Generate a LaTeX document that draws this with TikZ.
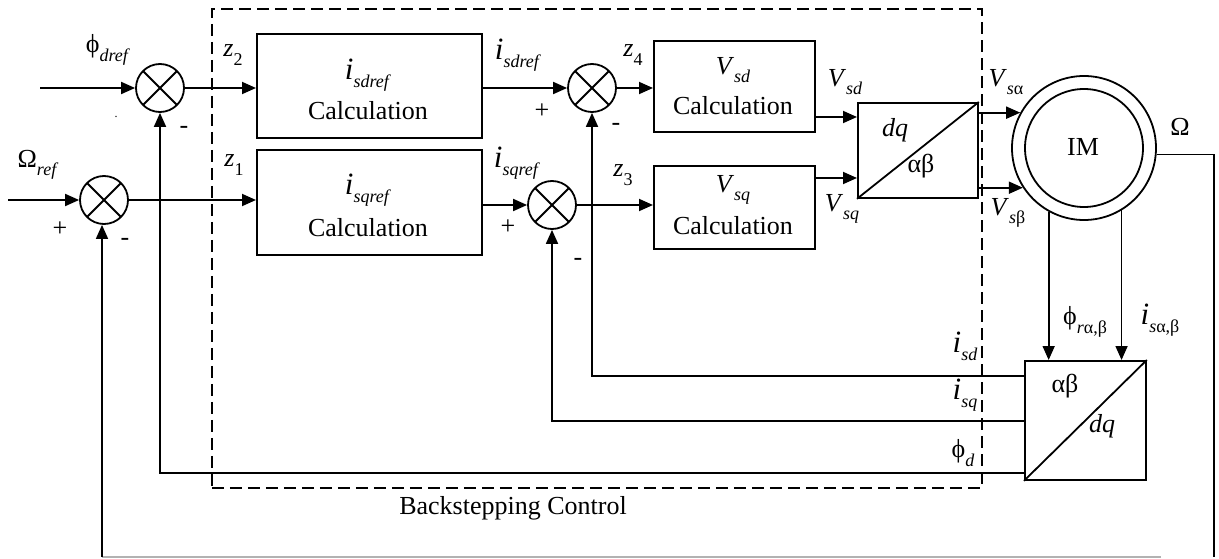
\documentclass[tikz,border=0pt]{standalone}
\usepackage{fontspec}
\setmainfont{Liberation Serif}
\usetikzlibrary{arrows.meta,calc}
% lowered small subscript
\newcommand\sbs[1]{\raisebox{-0.32em}{\fontsize{18}{18}\selectfont #1}}
\newcommand\bigi{{\fontsize{31}{31}\selectfont\textit{i}}}
\begin{document}
\begin{tikzpicture}[x=1pt,y=-1pt,line width=1.8pt,
  every node/.style={font=\fontsize{26}{30}\selectfont,inner sep=0pt},
  blk/.style={draw,line width=1.8pt,anchor=north west},
  sumj/.style={draw,circle,line width=1.8pt,minimum size=48pt,
    path picture={\draw[line width=1.8pt]
      (path picture bounding box.north west) -- (path picture bounding box.south east)
      (path picture bounding box.north east) -- (path picture bounding box.south west);}},
  arr/.style={-{Triangle[length=14pt,width=12pt]}},
  frame/.style={draw,line width=1.6pt,dash pattern=on 12pt off 6pt,anchor=north west},
  fb/.style={line width=1.6pt},
]
\useasboundingbox (0,0) rectangle (1219,559);

% dashed frame of the controller
\node[frame,minimum width=770pt,minimum height=479pt] (bsc) at (211,8) {};
\node (bsclab) at (513,508) {Backstepping Control};

% summing junctions
\node[sumj] (S1) at (160,88) {};
\node[sumj] (S2) at (104,200) {};
\node[sumj] (S4) at (592,88) {};
\node[sumj] (S3) at (552,205) {};

% calculation blocks
\node[blk,minimum width=225pt,minimum height=104pt] (B2) at (256,33) {};
\node[blk,minimum width=225pt,minimum height=105pt] (B1) at (256,149) {};
\node[blk,minimum width=161pt,minimum height=91pt] (Vd) at (653,40) {};
\node[blk,minimum width=161pt,minimum height=83pt] (Vq) at (653,165) {};

\node (B2a) at (368,75) {\bigi\sbs{\textit{sdref}}};
\node (B2b) at (368,111) {Calculation};
\node (B1a) at (368,190) {\bigi\sbs{\textit{sqref}}};
\node (B1b) at (368,228) {Calculation};
\node (Vda) at (733,70) {\textit{V}\sbs{\textit{sd}}};
\node (Vdb) at (733,106) {Calculation};
\node (Vqa) at (733,190) {\textit{V}\sbs{\textit{sq}}};
\node (Vqb) at (733,226) {Calculation};

% transformation blocks
\node[blk,minimum width=120pt,minimum height=95pt] (T1) at (857,102) {};
\draw (T1.south west) -- (T1.north east);
\node (T1a) at (895,130) {\textit{dq}};
\node (T1b) at (921,166) {αβ};

\node[blk,minimum width=121pt,minimum height=119pt] (T2) at (1024,360) {};
\draw (T2.south west) -- (T2.north east);
\node (T2a) at (1065,386) {αβ};
\node (T2b) at (1102,426) {\textit{dq}};

% machine
\node[draw,circle,line width=1.8pt,minimum size=144pt] (IMo) at (1084,148) {};
\node[draw,circle,line width=1.8pt,minimum size=118pt] (IMi) at (1084,148) {};
\node (IMt) at (1083,147) {IM};

% reference inputs
\coordinate (inphi) at (40,88);
\coordinate (inom) at (8,200);
\draw[arr] (inphi) -- (S1.west);
\draw[arr] (inom) -- (S2.west);
\node (lphi) at (108,50) {ϕ\sbs{\textit{dref}}};
\node (lom) at (38,165) {Ω\sbs{\textit{ref}}};
\node (dot) at (116,117) {\fontsize{12}{12}\selectfont .};

% forward path
\draw[arr] (S1.east) -- (S1.east -| B2.west);
\draw[arr] (S2.east) -- (S2.east -| B1.west);
\draw[arr] (B2.east |- S4.west) -- (S4.west);
\draw[arr] (B1.east |- S3.west) -- (S3.west);
\draw[arr] (S4.east) -- (S4.east -| Vd.west);
\draw[arr] (S3.east) -- (S3.east -| Vq.west);
\draw[arr] (Vd.east |- 0,117) -- (T1.west |- 0,117);
\draw[arr] (Vq.east |- 0,178) -- (T1.west |- 0,178);
\draw[arr] (T1.east |- IMo.151) -- (IMo.151);
\draw[arr] (T1.east |- IMo.213) -- (IMo.213);

\node (lz2) at (233,55) {\textit{z}\sbs{2}};
\node (lz1) at (234,165) {\textit{z}\sbs{1}};
\node (lz4) at (633,55) {\textit{z}\sbs{4}};
\node (lz3) at (623,175) {\textit{z}\sbs{3}};
\node (lisd) at (518,55) {\bigi\sbs{\textit{sdref}}};
\node (lisq) at (517,163) {\bigi\sbs{\textit{sqref}}};
\node (lvsd) at (845,82) {\textit{V}\sbs{\textit{sd}}};
\node (lvsq) at (842,209) {\textit{V}\sbs{\textit{sq}}};
\node (lvsa) at (1006,82) {\textit{V}\sbs{\textit{s}α}};
\node (lvsb) at (1008,213) {\textit{V}\sbs{\textit{s}β}};

% signs at the junctions
\node (p2) at (60,229) {+};
\node (m2) at (125,242) {-};
\node (m1) at (184,130) {-};
\node (p4) at (542,111) {+};
\node (m4) at (616,127) {-};
\node (p3) at (508,227) {+};
\node (m3) at (578,262) {-};

% measurements from the machine
\draw[arr] (IMo.241) -- (IMo.241 |- T2.north);
\draw[arr] (IMo.301) -- (IMo.301 |- T2.north);
\node (lphr) at (1085,322) {ϕ\sbs{\textit{r}α,β}};
\node (lisab) at (1160,320) {\bigi\sbs{\textit{s}α,β}};

% feedback lines
\draw[arr] (T2.west |- 0,376) -| (S4.south);
\draw[arr] (T2.west |- 0,421) -| (S3.south);
\draw[arr] (T2.west |- 0,473) -| (S1.south);
\node (fisd) at (965,346) {\bigi\sbs{\textit{sd}}};
\node (fisq) at (965,395) {\bigi\sbs{\textit{sq}}};
\node (fphd) at (963,453) {ϕ\sbs{\textit{d}}};

% speed loop
\coordinate (c1) at (1214,557);
\coordinate (c2) at (1161,557);
\coordinate (c3) at (102,557);
\draw[fb] (IMo.355) -- (IMo.355 -| c1) -- (c1);
\draw[line width=1.2pt,gray!60] (c2) -- (c3);
\draw[fb,arr] (c3) -- (S2.south -| c3);
\node (lOm) at (1180,127) {Ω};
\end{tikzpicture}
\end{document}
